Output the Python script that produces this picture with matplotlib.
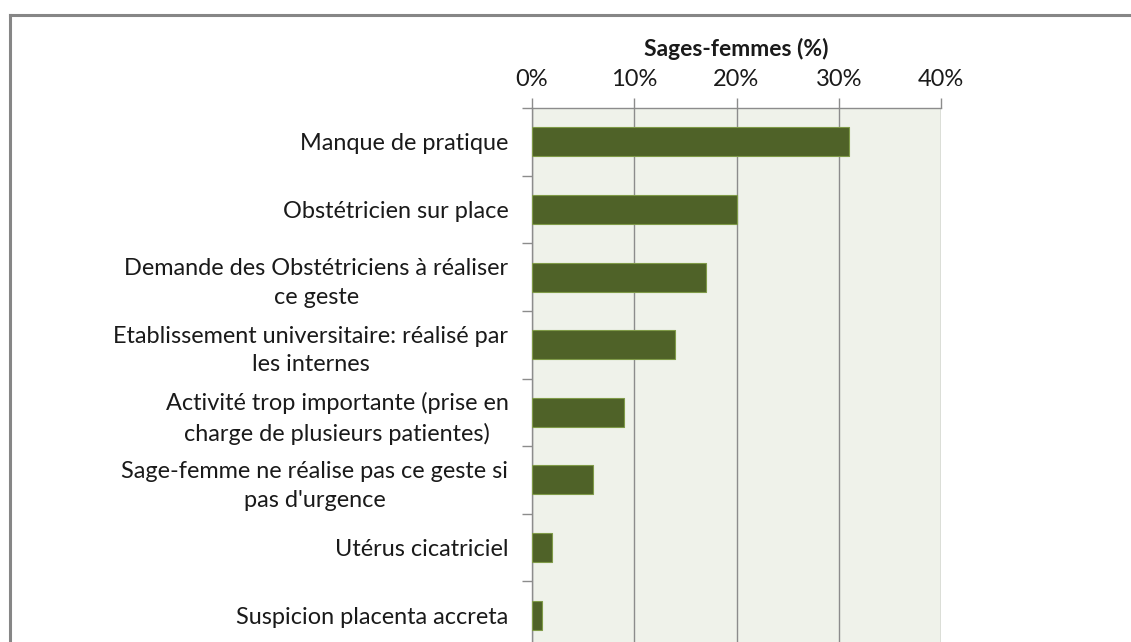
import numpy as np
import matplotlib.pyplot as plt
from matplotlib.lines import Line2D
from matplotlib.ticker import FuncFormatter

categories = [
    "Manque de pratique",
    "Obstétricien sur place",
    "Demande des Obstétriciens à réaliser\nce geste",
    "Etablissement universitaire: réalisé par\nles internes",
    "Activité trop importante (prise en\ncharge de plusieurs patientes)",
    "Sage-femme ne réalise pas ce geste si\npas d'urgence",
    "Utérus cicatriciel",
    "Suspicion placenta accreta",
]
values = [31, 20, 17, 14, 9, 6, 2, 1]
xticks = [0, 10, 20, 30, 40]

plt.rcParams['font.family'] = ['Lato', 'DejaVu Sans']

W, H = 1131, 642
fig = plt.figure(figsize=(W / 100, H / 100), dpi=100)
ax = fig.add_axes([532 / W, 1 - 649 / H, 409 / W, 541 / H])

y = np.arange(len(categories))
ax.barh(y, values, height=0.43, color='#4F6228', edgecolor='#7F9A48', linewidth=0.8, zorder=3)

ax.set_facecolor('#EFF2EA')
ax.set_xlim(0, 40)
ax.set_ylim(len(categories) - 0.5, -0.5)

ax.xaxis.tick_top()
ax.xaxis.set_label_position('top')
ax.set_xticks(xticks)
ax.xaxis.set_major_formatter(FuncFormatter(lambda v, p: f"{v:.0f}%"))
ax.set_xlabel('Sages-femmes (%)', fontsize=16.5, fontweight='bold', labelpad=9, color='#1a1a1a')
ax.tick_params(axis='x', direction='out', length=7, width=1, color='#8c8c8c',
               labelsize=17, labelcolor='#1a1a1a', pad=6)
ax.grid(axis='x', color='#8c8c8c', linewidth=1, zorder=1)

ax.set_yticks(y)
ax.set_yticklabels(categories, multialignment='center', fontsize=16.9, color='#1a1a1a',
                   linespacing=1.45)
ax.set_yticks(np.arange(len(categories) + 1) - 0.5, minor=True)
ax.tick_params(axis='y', which='major', length=0, pad=17)
ax.tick_params(axis='y', which='minor', direction='out', length=7, width=1, color='#8c8c8c')

for s in ['right', 'bottom']:
    ax.spines[s].set_visible(False)
for s in ['left', 'top']:
    ax.spines[s].set_color('#8c8c8c')
    ax.spines[s].set_linewidth(1)

# outer chart border (cut at right and bottom)
fig.add_artist(Line2D([10 / W, 10 / W], [0, 1 - 15 / H], color='#868686', linewidth=2.2))
fig.add_artist(Line2D([10 / W, 1], [1 - 15 / H, 1 - 15 / H], color='#868686', linewidth=2.2))

fig.savefig('out.png', dpi=100)
